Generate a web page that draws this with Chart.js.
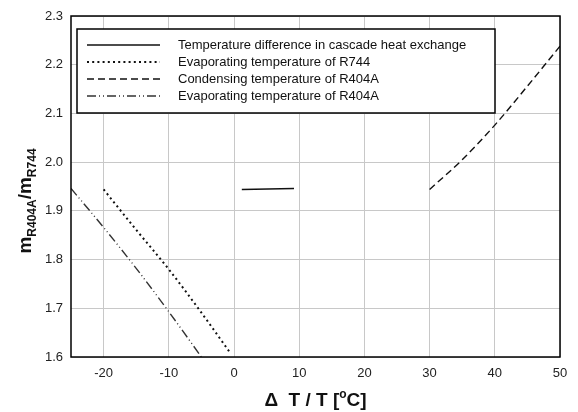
<!DOCTYPE html>
<html>
<head>
<meta charset="utf-8">
<script src="https://cdn.jsdelivr.net/npm/chart.js@4.4.1/dist/chart.umd.min.js"></script>
<style>
  html, body { margin: 0; padding: 0; background: #fff; }
  #wrap { width: 578px; height: 412px; position: relative; }
</style>
</head>
<body>
<div id="wrap"><canvas id="myChart"></canvas></div>
<script>
// series
const labels = [
    'Temperature difference in cascade heat exchange',
    'Evaporating temperature of R744',
    'Condensing temperature of R404A',
    'Evaporating temperature of R404A'
];
const diffX = [1.2, 9.2];
const diffY = [1.944, 1.946];
const evapR744X = [-20, -15, -10, -5, -0.5];
const evapR744Y = [1.944, 1.861, 1.780, 1.691, 1.607];
const condR404X = [30, 35, 40, 45, 50];
const condR404Y = [1.944, 2.005, 2.076, 2.156, 2.238];
const evapR404X = [-25, -20, -15, -10, -5];
const evapR404Y = [1.946, 1.866, 1.782, 1.693, 1.600];

const xTicks = [-20, -10, 0, 10, 20, 30, 40, 50];

function pts(xs, ys) {
    return xs.map((x, i) => ({ x: x, y: ys[i] }));
}

const FONT = '"Liberation Sans", Arial, sans-serif';

const styles = [
    { color: '#111', dash: [], width: 1.5 },
    { color: '#111', dash: [2, 3.2], width: 2 },
    { color: '#111', dash: [7, 4], width: 1.4 },
    { color: '#333', dash: [9, 3, 1, 3, 1, 3], width: 1.4 }
];

const series = [pts(diffX, diffY), pts(evapR744X, evapR744Y), pts(condR404X, condR404Y), pts(evapR404X, evapR404Y)];

// frame, legend box and axis titles (with sub/superscripts)
const extras = {
    id: 'extras',
    afterDatasetsDraw(chart) {
        const c = chart.ctx;
        const a = chart.chartArea;
        c.save();
        c.strokeStyle = '#000';
        c.lineWidth = 1.5;
        c.strokeRect(a.left, a.top, a.right - a.left, a.bottom - a.top);

        // legend
        const bx = 77, by = 29, bw = 418, bh = 84;
        c.fillStyle = '#fff';
        c.fillRect(bx, by, bw, bh);
        c.lineWidth = 1.5;
        c.strokeRect(bx, by, bw, bh);
        c.font = '13px ' + FONT;
        c.textBaseline = 'middle';
        for (let i = 0; i < labels.length; i++) {
            const y = 45 + i * 17;
            c.beginPath();
            c.strokeStyle = styles[i].color;
            c.lineWidth = styles[i].width;
            c.setLineDash(styles[i].dash);
            c.moveTo(87, y);
            c.lineTo(160, y);
            c.stroke();
            c.setLineDash([]);
            c.fillStyle = '#111';
            c.fillText(labels[i], 178, y);
        }

        // y title
        c.save();
        c.translate(31, 201);
        c.rotate(-Math.PI / 2);
        c.fillStyle = '#111';
        c.textBaseline = 'alphabetic';
        const big = 'bold 19px ' + FONT, small = 'bold 12px ' + FONT;
        const parts = [['m', big, 0], ['R404A', small, 5], ['/m', big, 0], ['R744', small, 5]];
        let w = 0;
        parts.forEach(p => { c.font = p[1]; w += c.measureText(p[0]).width; });
        let x = -w / 2;
        parts.forEach(p => {
            c.font = p[1];
            c.fillText(p[0], x, p[2]);
            x += c.measureText(p[0]).width;
        });
        c.restore();

        // x title
        const xparts = [['\u0394  T / T [', big, 0], ['o', small, -8], ['C]', big, 0]];
        w = 0;
        xparts.forEach(p => { c.font = p[1]; w += c.measureText(p[0]).width; });
        x = (a.left + a.right) / 2 - w / 2;
        c.fillStyle = '#111';
        c.textBaseline = 'alphabetic';
        xparts.forEach(p => {
            c.font = p[1];
            c.fillText(p[0], x, 406 + p[2]);
            x += c.measureText(p[0]).width;
        });
        c.restore();
    }
};

const ctx = document.getElementById('myChart').getContext('2d');
const myChart = new Chart(ctx, {
    type: 'line',
    data: {
        datasets: series.map((d, i) => ({
            label: labels[i],
            data: d,
            borderColor: styles[i].color,
            borderWidth: styles[i].width,
            borderDash: styles[i].dash,
            pointRadius: 0,
            cubicInterpolationMode: 'monotone',
            fill: false
        }))
    },
    options: {
        responsive: true,
        maintainAspectRatio: false,
        animation: false,
        layout: { padding: { top: 16, right: 18, left: 0, bottom: 0 } },
        plugins: {
            legend: { display: false },
            tooltip: { enabled: false }
        },
        scales: {
            x: {
                type: 'linear',
                min: -25,
                max: 50,
                afterBuildTicks: (s) => { s.ticks = xTicks.map(v => ({ value: v })); },
                afterFit: (s) => { s.height = 55; },
                grid: { color: '#c8c8c8', lineWidth: 1, drawTicks: false },
                border: { display: false },
                ticks: { padding: 9, color: '#222', font: { family: FONT, size: 13 } }
            },
            y: {
                min: 1.6,
                max: 2.3,
                afterFit: (s) => { s.width = 71; },
                grid: { color: '#c8c8c8', lineWidth: 1, drawTicks: false },
                border: { display: false },
                ticks: {
                    stepSize: 0.1,
                    padding: 8,
                    color: '#222',
                    font: { family: FONT, size: 13 },
                    callback: (v) => v.toFixed(1)
                }
            }
        }
    },
    plugins: [extras]
});
</script>
</body>
</html>
